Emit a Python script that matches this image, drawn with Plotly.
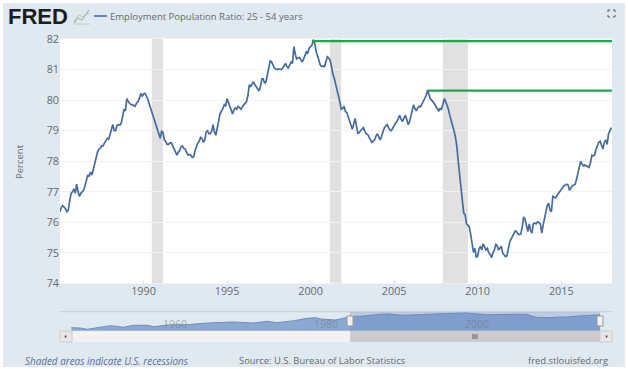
import plotly.graph_objects as go

W, H = 628, 369
L, R, T, B = 60, 612, 39, 342

title = "Employment Population Ratio: 25 - 54 years"
# monthly readings: each year's twelve values
ratio_1985 = [76.35,76.5,76.55,76.5,76.45,76.35,76.4,76.7,76.95,77.0,77.1,76.95]
ratio_1986 = [77.25,77.0,76.85,76.95,77.0,77.05,77.2,77.35,77.55,77.5,77.65,77.55]
ratio_1987 = [77.75,77.95,78.1,78.3,78.4,78.42,78.5,78.5,78.6,78.68,78.75,78.72]
ratio_1988 = [78.85,79.05,79.2,79.0,79.0,79.18,79.2,79.18,79.25,79.45,79.7,79.65]
ratio_1989 = [80.05,79.95,79.9,79.85,79.85,79.82,79.8,79.9,79.95,80.05,80.22,80.12]
ratio_1990 = [80.2,80.22,80.15,80.05,79.9,79.75,79.6,79.45,79.35,79.15,79.0,78.85]
ratio_1991 = [78.75,78.98,78.95,78.7,78.65,78.55,78.55,78.6,78.6,78.5,78.4,78.3]
ratio_1992 = [78.2,78.3,78.35,78.48,78.5,78.42,78.4,78.28,78.2,78.22,78.2,78.12]
ratio_1993 = [78.15,78.35,78.5,78.6,78.65,78.78,78.75,78.62,78.7,78.95,79.0,78.9]
ratio_1994 = [78.9,79.0,79.2,78.95,78.85,79.1,79.3,79.55,79.65,79.72,79.85,79.8]
ratio_1995 = [80.05,79.92,79.8,79.65,79.55,79.68,79.75,79.7,79.8,79.75,79.7,79.78]
ratio_1996 = [79.85,79.92,79.95,80.15,80.5,80.45,80.55,80.6,80.5,80.42,80.35,80.3]
ratio_1997 = [80.45,80.7,80.7,80.55,80.6,80.85,81.1,81.28,81.25,81.12,81.05,81.02]
ratio_1998 = [81.0,81.02,81.0,81.0,81.05,81.12,81.2,81.1,81.05,81.15,81.25,81.2]
ratio_1999 = [81.75,81.5,81.35,81.38,81.4,81.32,81.25,81.35,81.45,81.58,81.55,81.7]
ratio_2000 = [81.75,81.8,81.98,81.85,81.6,81.45,81.25,81.15,81.1,81.12,81.1,81.25]
ratio_2001 = [81.42,81.38,81.3,81.12,80.85,80.72,80.55,80.35,80.2,79.95,79.7,79.72]
ratio_2002 = [79.8,79.62,79.6,79.45,79.35,79.15,79.05,79.22,79.4,79.15,78.9,78.95]
ratio_2003 = [79.0,79.08,79.1,78.98,78.9,78.88,78.8,78.7,78.62,78.66,78.7,78.82]
ratio_2004 = [78.9,78.8,78.7,78.82,78.95,79.1,79.15,79.2,79.1,79.02,79.0,79.1]
ratio_2005 = [79.15,79.25,79.3,79.42,79.5,79.38,79.3,79.4,79.5,79.38,79.2,79.28]
ratio_2006 = [79.45,79.7,79.85,79.72,79.65,79.75,79.8,79.78,79.87,79.95,80.05,80.15]
ratio_2007 = [80.33,80.15,80.05,80.0,79.95,79.88,79.8,79.7,79.65,79.72,79.7,79.85]
ratio_2008 = [80.05,79.95,79.85,79.7,79.5,79.35,79.2,79.0,78.8,78.5,78.0,77.55]
ratio_2009 = [77.1,76.7,76.3,76.25,75.95,75.9,75.85,75.6,75.3,75.02,75.15,74.85]
ratio_2010 = [74.9,75.15,75.2,75.1,75.3,75.2,75.1,75.15,75.0,74.95,74.85,75.0]
ratio_2011 = [75.1,75.28,75.25,75.1,75.15,75.22,75.0,74.95,74.88,74.9,75.2,75.35]
ratio_2012 = [75.45,75.55,75.65,75.72,75.7,75.62,75.6,75.62,75.85,76.18,76.1,75.85]
ratio_2013 = [75.7,75.95,75.75,75.65,75.95,75.98,75.95,76.02,76.0,75.95,75.65,75.9]
ratio_2014 = [76.2,76.35,76.55,76.63,76.4,76.35,76.85,76.82,76.8,76.88,76.95,77.02]
ratio_2015 = [77.1,77.15,77.2,77.22,77.25,77.22,77.05,77.12,77.2,77.22,77.25,77.4]
ratio_2016 = [77.6,77.85,78.0,77.9,77.85,77.88,77.85,77.82,77.8,77.95,78.2,78.18]
ratio_2017 = [78.2,78.4,78.5,78.62,78.65,78.5,78.4,78.62,78.7,78.55,78.9,79.0]
ratio_2018 = [79.1]

early_dates = ["1948-02-01","1949-04-01","1950-03-01","1952-01-01","1953-04-01","1955-01-01",
               "1956-04-01","1958-02-01","1959-01-01","1960-10-01","1963-05-01","1966-01-01",
               "1969-07-01","1972-03-01","1974-01-01","1975-04-01","1977-07-01","1979-04-01",
               "1980-05-01","1981-02-01","1983-01-01","1984-08-01"]
early_values = [61.5,61.05,59.3,62.8,64.2,62.0,64.7,64.7,62.8,65.1,65.5,67.8,69.2,67.8,70.1,68.2,
                70.9,74.1,75.0,73.2,71.9,75.5]

recession_start = ["1990-07-01","2001-03-01","2007-12-01"]
recession_end = ["1991-03-01","2001-11-01","2009-06-01"]
high_start = ["2000-02-01","2007-01-15"]
high_end = "2018-01-15"
high_values = [81.93,80.31]
y_ticks = [74,75,76,77,78,79,80,81,82]
x_tick_dates = ["1990-01-01","1995-01-01","2000-01-01","2005-01-01","2010-01-01","2015-01-01"]
x_tick_labels = ["1990","1995","2000","2005","2010","2015"]
nav_labels = ["1960","1980","2000"]

rows = [ratio_1985,ratio_1986,ratio_1987,ratio_1988,ratio_1989,ratio_1990,ratio_1991,ratio_1992,
        ratio_1993,ratio_1994,ratio_1995,ratio_1996,ratio_1997,ratio_1998,ratio_1999,ratio_2000,
        ratio_2001,ratio_2002,ratio_2003,ratio_2004,ratio_2005,ratio_2006,ratio_2007,ratio_2008,
        ratio_2009,ratio_2010,ratio_2011,ratio_2012,ratio_2013,ratio_2014,ratio_2015,ratio_2016,
        ratio_2017,ratio_2018]
dates, values = [], []
for i, row in enumerate(rows):
    for m, v in enumerate(row):
        dates.append(f"{1985+i}-{m+1:02d}-01")
        values.append(v)

def px(x): return (x - L) / (R - L)
def py(y): return (B - y) / (B - T)

FONT = "Open Sans"
TEXT = "#5f6b75"
LINE = "#466c9f"

fig = go.Figure()
fig.add_trace(go.Scatter(x=dates, y=values, mode="lines", name=title,
                         line=dict(color=LINE, width=1.7), xaxis="x", yaxis="y", showlegend=False))
for s, v in zip(high_start, high_values):
    fig.add_trace(go.Scatter(x=[s, high_end], y=[v, v], mode="lines", showlegend=False,
                             line=dict(color="#1fa64a", width=2.4), xaxis="x", yaxis="y"))
fig.add_trace(go.Scatter(x=early_dates + dates, y=early_values + values, mode="lines", fill="tozeroy",
                         fillcolor="#8ba9d0", line=dict(color="#6f8fbb", width=1),
                         showlegend=False, xaxis="x2", yaxis="y2", hoverinfo="skip"))

def rect(x0, y0, x1, y1, fill, line=None, layer="below", w=1):
    return dict(type="rect", xref="paper", yref="paper", x0=px(x0), x1=px(x1), y0=py(y0), y1=py(y1),
                fillcolor=fill, line=dict(color=line or fill, width=w if line else 0), layer=layer)

def path(points, color, w=1):
    d = "M" + " L".join(f"{px(x):.5f},{py(y):.5f}" for x, y in points)
    return dict(type="path", xref="paper", yref="paper", path=d, line=dict(color=color, width=w), layer="above")

shapes = [
    rect(3, 3, 625, 367, "#e1e9f0"),
    rect(L, 38.5, R, 283.5, "#ffffff"),
]
for s, e in zip(recession_start, recession_end):
    shapes.append(dict(type="rect", xref="x", yref="y", x0=s, x1=e, y0=74, y1=82,
                       fillcolor="#e1e1e1", line=dict(width=0), layer="below"))
shapes += [
    path([(L, 311.7), (R, 311.7)], "#c5ced6", 1),
    rect(350, 312, 600, 330.7, "rgba(102,133,194,0.30)", layer="above"),
    rect(72, 331, 350, 342, "#f2f2f2", layer="above"),
    rect(350, 331, 600, 342, "#cccccc", layer="above"),
    rect(60, 331, 72, 342, "#e6e6e6", line="#cccccc", layer="above"),
    rect(600, 331, 612, 342, "#e6e6e6", line="#cccccc", layer="above"),
    rect(347, 316, 353, 326, "#f2f2f2", line="#999999", layer="above"),
    rect(597, 316, 603, 326, "#f2f2f2", line="#999999", layer="above"),
    rect(64.8, 335.5, 66.3, 337.5, "#333333", layer="above"),
    rect(605.8, 335.5, 607.3, 337.5, "#333333", layer="above"),
    path([(473, 334), (473, 339)], "#666666", 1),
    path([(475, 334), (475, 339)], "#666666", 1),
    path([(477, 334), (477, 339)], "#666666", 1),
    path([(94, 16), (107, 16)], LINE, 1.6),
    path([(74, 23), (78, 18), (82, 20), (89, 10)], "#a9b8a8", 1.2),
    path([(74, 21), (79, 15), (83, 17), (89, 13)], "#b8c4c0", 1),
    path([(74, 24), (90, 24)], "#c2ccc4", 1),
    path([(608, 12), (608, 10), (610, 10)], "#555555", 1),
    path([(613, 10), (615, 10), (615, 12)], "#555555", 1),
    path([(608, 15), (608, 17), (610, 17)], "#555555", 1),
    path([(613, 17), (615, 17), (615, 15)], "#555555", 1),
]

def note(x, y, text, size=10.5, color=TEXT, anchor="left", **kw):
    return dict(xref="paper", yref="paper", x=px(x), y=py(y), text=text, showarrow=False,
                xanchor=anchor, yanchor="middle", font=dict(family=kw.pop("family", FONT), size=size, color=color), **kw)

annotations = [
    note(6, 16.5, "<b>FRED</b>", size=22, color="#1c1c1c", family="Liberation Sans"),
    note(108, 16, title, size=9.5, color=TEXT),
    note(19, 162, "Percent", size=9.5, anchor="center", textangle=-90),
    note(23, 360.5, "<i>Shaded areas indicate U.S. recessions</i>", size=9.9, color="#5b6f96"),
    note(322.5, 360.5, "Source: U.S. Bureau of Labor Statistics", size=9.4, anchor="center"),
    note(610, 360.5, "fred.stlouisfed.org", size=9.4, anchor="right"),
]
for lab, xp in zip(nav_labels, [175, 326, 477]):
    annotations.append(note(xp, 324, lab, size=10.5, color="rgba(110,120,130,0.55)", anchor="center"))

fig.update_layout(
    width=W, height=H, autosize=False,
    margin=dict(l=L, r=W - R, t=T, b=H - B, pad=0),
    paper_bgcolor="#ffffff", plot_bgcolor="rgba(0,0,0,0)",
    showlegend=False, shapes=shapes, annotations=annotations,
    font=dict(family=FONT, color=TEXT, size=10.5),
    xaxis=dict(type="date", domain=[0, 1], range=["1985-01-01", "2018-01-15"], anchor="y",
               tickmode="array", tickvals=x_tick_dates, ticktext=x_tick_labels,
               showgrid=False, zeroline=False,
               ticks="inside", ticklen=4, tickcolor="#dde3ea", showline=False,
               tickfont=dict(family=FONT, size=10.8, color=TEXT)),
    yaxis=dict(domain=[py(283.5), 1], range=[74, 82], tickmode="array", tickvals=y_ticks, anchor="x",
               gridcolor="#f1f1f1", gridwidth=1.2, zeroline=False, showline=False, ticks="",
               tickfont=dict(family=FONT, size=10.8, color=TEXT)),
    xaxis2=dict(type="date", domain=[0, 1], range=["1946-08-01", "2019-08-01"], anchor="y2",
                visible=False),
    yaxis2=dict(domain=[py(330.7), py(312)], range=[57.4, 82.7], anchor="x2", visible=False),
)
fig.write_html("out.html", config={"displayModeBar": False},
               post_script="document.body.style.margin='0';document.documentElement.style.overflow='hidden';")
